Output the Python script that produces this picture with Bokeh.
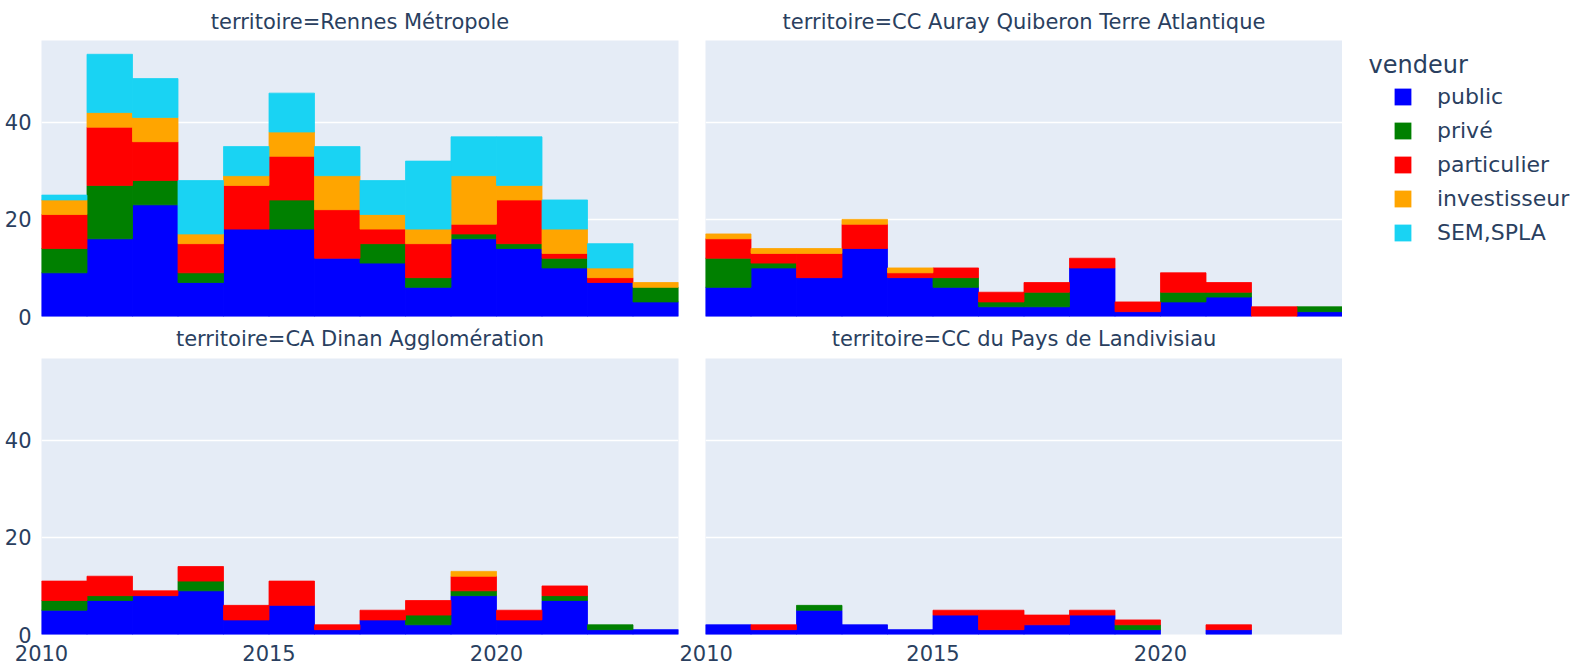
from bokeh.plotting import figure
from bokeh.models import ColumnDataSource, FixedTicker, Range1d, Legend, LegendItem, Label, Title
from bokeh.layouts import row, column
from bokeh.embed import file_html
from bokeh.resources import INLINE

# ---------------- data ----------------
years = list(range(2010, 2024))  # histogram bins [year, year+1)
vendeurs = ["public", "privé", "particulier", "investisseur", "SEM,SPLA"]
colors = ["#0000ff", "#008000", "#ff0000", "#ffa500", "#19d3f3"]
territoires = ["Rennes Métropole", "CC Auray Quiberon Terre Atlantique",
               "CA Dinan Agglomération", "CC du Pays de Landivisiau"]

rennes_public       = [9, 16, 23, 7, 18, 18, 12, 11, 6, 16, 14, 10, 7, 3]
rennes_prive        = [5, 11, 5, 2, 0, 6, 0, 4, 2, 1, 1, 2, 0, 3]
rennes_particulier  = [7, 12, 8, 6, 9, 9, 10, 3, 7, 2, 9, 1, 1, 0]
rennes_investisseur = [3, 3, 5, 2, 2, 5, 7, 3, 3, 10, 3, 5, 2, 1]
rennes_sem          = [1, 12, 8, 11, 6, 8, 6, 7, 14, 8, 10, 6, 5, 0]

auray_public       = [6, 10, 8, 14, 8, 6, 2, 2, 10, 1, 3, 4, 0, 1]
auray_prive        = [6, 1, 0, 0, 0, 2, 1, 3, 0, 0, 2, 1, 0, 1]
auray_particulier  = [4, 2, 5, 5, 1, 2, 2, 2, 2, 2, 4, 2, 2, 0]
auray_investisseur = [1, 1, 1, 1, 1, 0, 0, 0, 0, 0, 0, 0, 0, 0]
auray_sem          = [0, 0, 0, 0, 0, 0, 0, 0, 0, 0, 0, 0, 0, 0]

dinan_public       = [5, 7, 8, 9, 3, 6, 1, 3, 2, 8, 3, 7, 1, 1]
dinan_prive        = [2, 1, 0, 2, 0, 0, 0, 0, 2, 1, 0, 1, 1, 0]
dinan_particulier  = [4, 4, 1, 3, 3, 5, 1, 2, 3, 3, 2, 2, 0, 0]
dinan_investisseur = [0, 0, 0, 0, 0, 0, 0, 0, 0, 1, 0, 0, 0, 0]
dinan_sem          = [0, 0, 0, 0, 0, 0, 0, 0, 0, 0, 0, 0, 0, 0]

landi_public       = [2, 1, 5, 2, 1, 4, 1, 2, 4, 1, 0, 1, 0, 0]
landi_prive        = [0, 0, 1, 0, 0, 0, 0, 0, 0, 1, 0, 0, 0, 0]
landi_particulier  = [0, 1, 0, 0, 0, 1, 4, 2, 1, 1, 0, 1, 0, 0]
landi_investisseur = [0, 0, 0, 0, 0, 0, 0, 0, 0, 0, 0, 0, 0, 0]
landi_sem          = [0, 0, 0, 0, 0, 0, 0, 0, 0, 0, 0, 0, 0, 0]

y_ticks = [0, 20, 40]
x_ticks = [2010, 2015, 2020]

# ---------------- styling ----------------
FONT = "DejaVu Sans"
TXT = "#2a3f5f"
BG = "#e5ecf6"
YMAX = 56.84

series = {
    territoires[0]: [rennes_public, rennes_prive, rennes_particulier, rennes_investisseur, rennes_sem],
    territoires[1]: [auray_public, auray_prive, auray_particulier, auray_investisseur, auray_sem],
    territoires[2]: [dinan_public, dinan_prive, dinan_particulier, dinan_investisseur, dinan_sem],
    territoires[3]: [landi_public, landi_prive, landi_particulier, landi_investisseur, landi_sem],
}


def style_title(t, standoff):
    t.align = "center"
    t.text_font = FONT
    t.text_font_size = "21px"
    t.text_font_style = "normal"
    t.text_color = TXT
    t.standoff = standoff


def panel(terr, show_y, show_x, w, h, bl, br, bt, bb):
    vals = series[terr]
    keys = [f"v{i}" for i in range(len(vendeurs))]
    akeys = [f"a{i}" for i in range(len(vendeurs))]
    d = dict(x=[y + 0.5 for y in years])
    for k, a, v in zip(keys, akeys, vals):
        d[k] = v
        d[a] = [1.0 if n > 0 else 0.0 for n in v]   # hide outline of empty segments
    src = ColumnDataSource(d)
    p = figure(width=w, height=h, x_range=Range1d(years[0], years[-1] + 1),
               y_range=Range1d(0, YMAX), output_backend="svg", toolbar_location=None,
               min_border_left=bl, min_border_right=br, min_border_top=bt, min_border_bottom=bb)
    p.vbar_stack(keys, x="x", width=1, fill_color=colors, line_color=colors,
                 line_alpha=akeys, line_width=0.8, source=src)
    p.background_fill_color = BG
    p.border_fill_color = "white"
    p.outline_line_color = None
    p.xgrid.visible = False
    p.ygrid.ticker = FixedTicker(ticks=y_ticks)
    p.ygrid.grid_line_color = "white"
    p.ygrid.grid_line_width = 1.6
    for ax in (p.xaxis[0], p.yaxis[0]):
        ax.axis_line_color = None
        ax.major_tick_line_color = None
        ax.minor_tick_line_color = None
        ax.major_label_text_font = FONT
        ax.major_label_text_font_size = "21px"
        ax.major_label_text_color = TXT
    p.yaxis.ticker = FixedTicker(ticks=y_ticks)
    p.yaxis.major_label_standoff = 4
    p.xaxis.ticker = FixedTicker(ticks=x_ticks)
    p.xaxis.major_label_standoff = 4
    p.yaxis.visible = show_y
    p.xaxis.visible = show_x
    return p


TOP_H = 358   # 40 + 276 + 42 (bottom border holds the lower row's facet titles)
BOT_H = 306   # 0 + 276 + 30
p_tl = panel(territoires[0], True, False, 679, TOP_H, 41, 1, 40, 42)
p_tr = panel(territoires[1], False, False, 663, TOP_H, 26, 0, 40, 42)
p_bl = panel(territoires[2], True, True, 679, BOT_H, 41, 1, 0, 30)
p_br = panel(territoires[3], False, True, 663, BOT_H, 26, 0, 0, 30)

# facet titles
p_tl.title.text = "territoire=" + territoires[0]
style_title(p_tl.title, 13)
p_tr.title.text = "territoire=" + territoires[1]
style_title(p_tr.title, 13)
for host, terr in ((p_tl, territoires[2]), (p_tr, territoires[3])):
    t = Title(text="territoire=" + terr)
    style_title(t, 16)
    host.add_layout(t, "below")
for p in (p_bl, p_br):
    p.title_location = None

# legend figure (frame aligned with the top row frames: page y 40..316)
LW = 231
leg = figure(width=LW, height=TOP_H, x_range=Range1d(0, LW), y_range=Range1d(316, 40),
             output_backend="svg", toolbar_location=None, x_axis_type=None, y_axis_type=None,
             min_border_left=0, min_border_right=0, min_border_top=40, min_border_bottom=42)
leg.title_location = None
leg.outline_line_color = None
leg.background_fill_color = "white"
leg.border_fill_color = "white"
leg.xgrid.visible = False
leg.ygrid.visible = False
nan = float("nan")
items = []
for name, c in zip(vendeurs, colors):
    r = leg.quad(left=[nan], right=[nan], top=[nan], bottom=[nan], fill_color=c, line_color=None)
    items.append(LegendItem(label=name, renderers=[r]))
legend = Legend(items=items, location=(50, 71), padding=0, margin=0, spacing=9,
                glyph_width=21, glyph_height=21, label_height=21, label_standoff=24,
                label_text_font=FONT, label_text_font_size="22px", label_text_color=TXT,
                background_fill_alpha=0, border_line_color=None)
leg.add_layout(legend, "center")
leg.add_layout(Label(x=26, y=64, text="vendeur", text_baseline="middle", text_font=FONT,
                     text_font_size="24px", text_color=TXT))

layout = column(row(p_tl, p_tr, leg), row(p_bl, p_br))
open("out.html", "w").write(file_html(layout, INLINE))
